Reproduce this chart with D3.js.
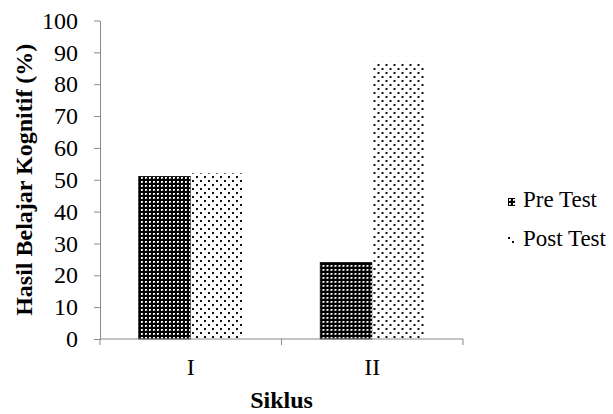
<!DOCTYPE html>
<html>
<head>
<meta charset="utf-8">
<script src="https://cdn.jsdelivr.net/npm/d3@7"></script>
<style>
  html, body { margin: 0; padding: 0; background: #fff; }
  svg { display: block; }
  text { font-family: "Liberation Serif", "Times New Roman", serif; fill: #000; }
</style>
</head>
<body>
<svg id="chart" width="613" height="414"></svg>
<script>
// Siklus categories and the two test series (%)
const categories = ["I", "II"];
const seriesNames = ["Pre Test", "Post Test"];
const preTest = [51, 24];
const postTest = [52, 87];
const yTicks = [0, 10, 20, 30, 40, 50, 60, 70, 80, 90, 100];

const svg = d3.select("#chart");
const axisColor = "#898989";
const fontSize = 24;

// Fill patterns: dense black grid for Pre Test, sparse staggered dots for Post Test
const defs = svg.append("defs");
const pPre = defs.append("pattern").attr("id", "pat-pre")
  .attr("patternUnits", "userSpaceOnUse").attr("width", 4).attr("height", 4);
pPre.append("rect").attr("width", 4).attr("height", 4).attr("fill", "#000");
pPre.append("rect").attr("x", 1).attr("y", 1).attr("width", 2).attr("height", 2).attr("fill", "#fff");
pPre.append("rect").attr("x", 2).attr("y", 2).attr("width", 1).attr("height", 1).attr("fill", "#999");

const pPost = defs.append("pattern").attr("id", "pat-post")
  .attr("patternUnits", "userSpaceOnUse").attr("width", 8).attr("height", 8);
pPost.append("rect").attr("width", 8).attr("height", 8).attr("fill", "#fff");
pPost.append("rect").attr("x", 0).attr("y", 0).attr("width", 2).attr("height", 2).attr("fill", "#111");
pPost.append("rect").attr("x", 4).attr("y", 4).attr("width", 2).attr("height", 2).attr("fill", "#111");

const fills = { "Pre Test": "url(#pat-pre)", "Post Test": "url(#pat-post)" };

// Scales
const x0 = d3.scaleBand().domain(categories).range([100, 463]).paddingInner(0).paddingOuter(0);
const x1 = d3.scaleBand().domain(seriesNames).range([0, x0.bandwidth()]).paddingInner(0).paddingOuter(0.745);
const y = d3.scaleLinear().domain([0, 100]).range([339, 20.5]);

const rows = categories.map((c, i) => ({ cat: c, values: [
  { name: "Pre Test", value: preTest[i] },
  { name: "Post Test", value: postTest[i] }
]}));

// Bars
const groups = svg.append("g").selectAll("g").data(rows).join("g")
  .attr("transform", d => `translate(${x0(d.cat)},0)`);
groups.selectAll("rect").data(d => d.values).join("rect")
  .attr("x", d => x1(d.name))
  .attr("y", d => y(d.value))
  .attr("width", x1.bandwidth())
  .attr("height", d => y(0) - y(d.value))
  .attr("fill", d => fills[d.name])
  .attr("stroke", d => d.name === "Pre Test" ? "#000" : "none")
  .attr("stroke-width", 0.8);

// Y axis
const yAxis = svg.append("g").attr("transform", "translate(100,0)")
  .call(d3.axisLeft(y).tickValues(yTicks).tickSize(6).tickSizeOuter(0).tickPadding(16));
yAxis.select(".domain").attr("stroke", axisColor);
yAxis.selectAll(".tick line").attr("stroke", axisColor);
yAxis.selectAll(".tick text").attr("font-size", fontSize).attr("fill", "#000");

// X axis: baseline with ticks at the category boundaries
const xg = svg.append("g");
xg.append("line").attr("x1", x0.range()[0]).attr("x2", x0.range()[1])
  .attr("y1", y(0)).attr("y2", y(0)).attr("stroke", axisColor);
const bounds = [x0(categories[0])].concat(categories.map(c => x0(c) + x0.bandwidth()));
xg.selectAll("line.tk").data(bounds).join("line").attr("class", "tk")
  .attr("x1", d => d).attr("x2", d => d)
  .attr("y1", y(0)).attr("y2", y(0) + 6).attr("stroke", axisColor);
xg.selectAll("text").data(categories).join("text")
  .attr("x", d => x0(d) + x0.bandwidth() / 2).attr("y", 375)
  .attr("text-anchor", "middle").attr("font-size", fontSize).text(d => d);

// Axis titles
svg.append("text").attr("x", 281.5).attr("y", 408).attr("text-anchor", "middle")
  .attr("font-size", fontSize).attr("font-weight", "bold").text("Siklus");
svg.append("text").attr("transform", `translate(32,${(y(0) + y(100)) / 2}) rotate(-90)`)
  .attr("text-anchor", "middle").attr("font-size", fontSize).attr("font-weight", "bold")
  .text("Hasil Belajar Kognitif (%)");

// Legend
const items = seriesNames.map((n, i) => ({ name: n, i }));
const lg = svg.append("g").selectAll("g").data(items).join("g")
  .attr("transform", d => `translate(508,${198 + d.i * 39})`);
lg.append("rect").attr("x", 0).attr("y", 0).attr("width", 7).attr("height", 8)
  .attr("fill", d => fills[d.name]);
lg.append("text").attr("x", 15).attr("y", 8.5).attr("font-size", 23).text(d => d.name);
</script>
</body>
</html>
